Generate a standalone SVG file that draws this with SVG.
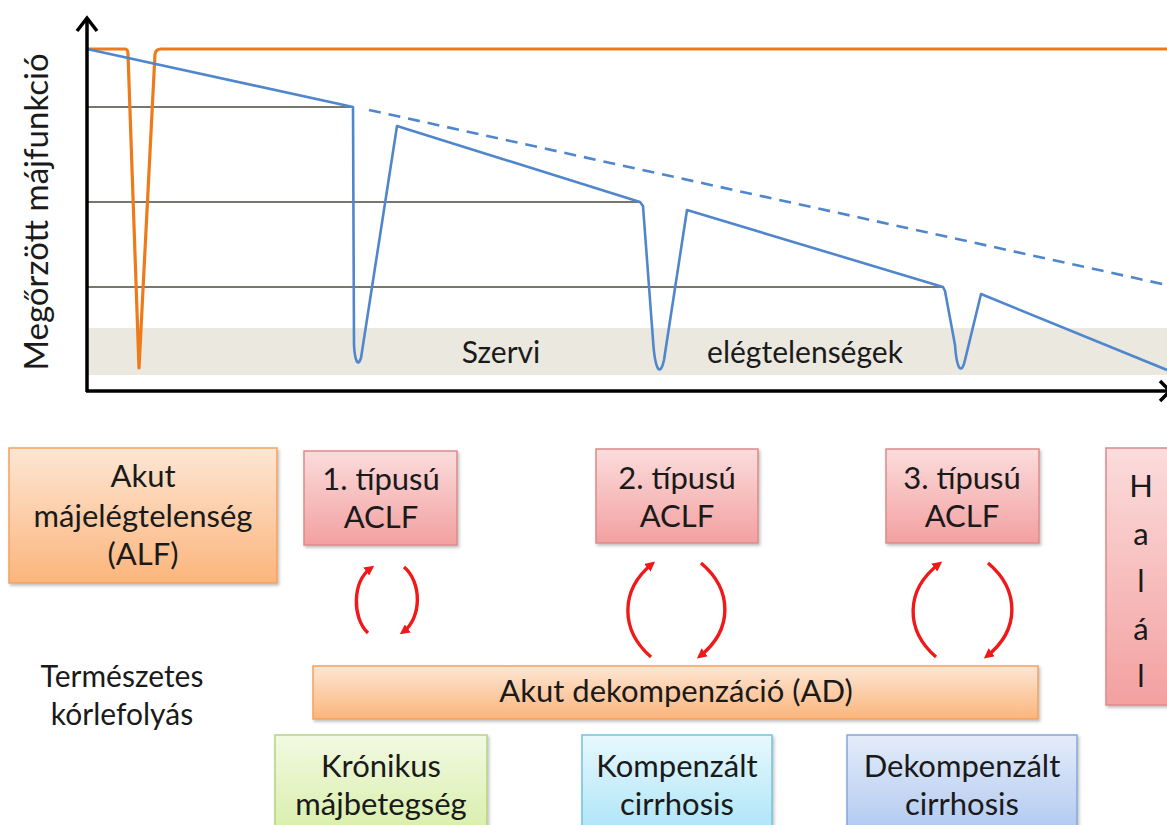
<svg xmlns="http://www.w3.org/2000/svg" width="1167" height="825" viewBox="0 0 1167 825">
<style>
  .t{font-family:Lato,"Open Sans","Liberation Sans",sans-serif;fill:#1a1a1a;text-anchor:middle}
  .b{font-size:31px}
  .hline{stroke:#4b4a3c;stroke-width:1.6;fill:none}
  .blue{stroke:#4f86cc;stroke-width:2.6;fill:none;stroke-linejoin:round}
  .orange{stroke:#ef7a1a;stroke-width:3.2;fill:none;stroke-linejoin:round}
  .axis{stroke:#000;stroke-width:3.5;fill:none}
  .arc{stroke:#f01818;stroke-width:3.4;fill:none}
</style>
<defs>
  <linearGradient id="gOr" x1="0" y1="0" x2="0" y2="1"><stop offset="0" stop-color="#fde6d4"/><stop offset="1" stop-color="#fbb57c"/></linearGradient>
  <linearGradient id="gRd" x1="0" y1="0" x2="0" y2="1"><stop offset="0" stop-color="#fbdcdc"/><stop offset="1" stop-color="#f3a0a0"/></linearGradient>
  <linearGradient id="gGr" x1="0" y1="0" x2="0" y2="1"><stop offset="0" stop-color="#f2f9e2"/><stop offset="1" stop-color="#d6eea6"/></linearGradient>
  <linearGradient id="gCy" x1="0" y1="0" x2="0" y2="1"><stop offset="0" stop-color="#e8f8fd"/><stop offset="1" stop-color="#a8e3f7"/></linearGradient>
  <linearGradient id="gBl" x1="0" y1="0" x2="0" y2="1"><stop offset="0" stop-color="#e4ecf9"/><stop offset="1" stop-color="#adc6ef"/></linearGradient>
  <filter id="sh" x="-5%" y="-5%" width="115%" height="120%"><feDropShadow dx="1.5" dy="2" stdDeviation="1.5" flood-color="#000" flood-opacity="0.25"/></filter>
  <marker id="ah" markerWidth="10" markerHeight="10" refX="6" refY="5" orient="auto" markerUnits="userSpaceOnUse"><path d="M0,0 L10,5 L0,10 Z" fill="#f01818"/></marker>
</defs>

<!-- chart -->
<g id="chart">
  <rect x="87" y="328" width="1080" height="47" fill="#ebe8df"/>
  <line class="hline" x1="87" y1="107" x2="353" y2="107"/>
  <line class="hline" x1="87" y1="202" x2="640" y2="202"/>
  <line class="hline" x1="87" y1="287" x2="943" y2="287"/>
  <path class="orange" d="M87,49 L125,49 Q128,49 128,54 L139,368 L155,54 Q156,49 161,49 L1167,49"/>
  <path class="blue" d="M87,49 L353,107 L354,345 C355,362 358,367 361,358 L397,126 L640,202 L643,206 L653,340 C655,370 660,378 664,360 L687,210 L943,287 L945,291 L955,345 C957,372 962,374 965,360 L981,294 L1167,370"/>
  <line class="blue" x1="369" y1="110" x2="1167" y2="285" stroke-dasharray="12,8"/>
  <path class="axis" d="M87,392 L87,19"/>
  <path class="axis" d="M77,31 L87,18 L97,31"/>
  <path class="axis" d="M86,391 L1167,391"/>
  <path class="axis" d="M1160,381 L1170,391 L1160,401"/>
  <text class="t" x="501" y="363" font-size="30">Szervi</text>
  <text class="t" x="805" y="363" font-size="30">elégtelenségek</text>
  <text class="t" font-size="33" transform="translate(48,212) rotate(-90)">Megőrzött májfunkció</text>
</g>

<g id="alf">
  <rect x="9" y="448" width="268" height="135" fill="url(#gOr)" stroke="#f5a15c" stroke-width="1.5" filter="url(#sh)"/>
  <text class="t b" x="143" y="487">Akut</text>
  <text class="t b" x="143" y="527">májelégtelenség</text>
  <text class="t b" x="143" y="565">(ALF)</text>
</g>
<g id="aclf1">
  <rect x="304" y="451" width="153" height="94" fill="url(#gRd)" stroke="#dc8a8a" stroke-width="1.5" filter="url(#sh)"/>
  <text class="t b" x="381" y="490">1. típusú</text>
  <text class="t b" x="381" y="528">ACLF</text>
</g>
<g id="aclf2">
  <rect x="596" y="449" width="162" height="94" fill="url(#gRd)" stroke="#dc8a8a" stroke-width="1.5" filter="url(#sh)"/>
  <text class="t b" x="677" y="489">2. típusú</text>
  <text class="t b" x="677" y="527">ACLF</text>
</g>
<g id="aclf3">
  <rect x="886" y="449" width="153" height="94" fill="url(#gRd)" stroke="#dc8a8a" stroke-width="1.5" filter="url(#sh)"/>
  <text class="t b" x="962" y="489">3. típusú</text>
  <text class="t b" x="962" y="527">ACLF</text>
</g>
<g id="halal">
  <rect x="1106" y="448" width="80" height="257" fill="url(#gRd)" stroke="#dc8a8a" stroke-width="1.5" filter="url(#sh)"/>
  <text class="t b" x="1141" y="497">H</text>
  <text class="t b" x="1141" y="545">a</text>
  <text class="t b" x="1141" y="592">l</text>
  <text class="t b" x="1141" y="640">á</text>
  <text class="t b" x="1141" y="687">l</text>
</g>
<g id="termeszetes">
  <text class="t" x="122" y="687" font-size="30">Természetes</text>
  <text class="t" x="122" y="725" font-size="30">kórlefolyás</text>
</g>
<g id="ad">
  <rect x="313" y="666" width="725" height="53" fill="url(#gOr)" stroke="#f5a15c" stroke-width="1.5" filter="url(#sh)"/>
  <text class="t b" x="676" y="702">Akut dekompenzáció (AD)</text>
</g>
<g id="kronikus">
  <rect x="275" y="735" width="212" height="105" fill="url(#gGr)" stroke="#b5d282" stroke-width="1.5" filter="url(#sh)"/>
  <text class="t b" x="381" y="777">Krónikus</text>
  <text class="t b" x="381" y="815">májbetegség</text>
</g>
<g id="kompenzalt">
  <rect x="582" y="735" width="190" height="105" fill="url(#gCy)" stroke="#74c2de" stroke-width="1.5" filter="url(#sh)"/>
  <text class="t b" x="677" y="777">Kompenzált</text>
  <text class="t b" x="677" y="815">cirrhosis</text>
</g>
<g id="dekompenzalt">
  <rect x="847" y="735" width="230" height="105" fill="url(#gBl)" stroke="#86a6da" stroke-width="1.5" filter="url(#sh)"/>
  <text class="t b" x="962" y="777">Dekompenzált</text>
  <text class="t b" x="962" y="815">cirrhosis</text>
</g>

<g id="connectors">
  <path class="arc" d="M368,633 C352,618 352,582 371,568" marker-end="url(#ah)"/>
  <path class="arc" d="M404,567 C422,582 422,618 403,632" marker-end="url(#ah)"/>
  <path class="arc" d="M651,657 C620,630 620,590 652,564" marker-end="url(#ah)"/>
  <path class="arc" d="M701,563 C733,590 733,630 700,656" marker-end="url(#ah)"/>
  <path class="arc" d="M936,657 C905,630 905,590 939,564" marker-end="url(#ah)"/>
  <path class="arc" d="M988,563 C1020,590 1020,630 987,656" marker-end="url(#ah)"/>
</g>
</svg>
